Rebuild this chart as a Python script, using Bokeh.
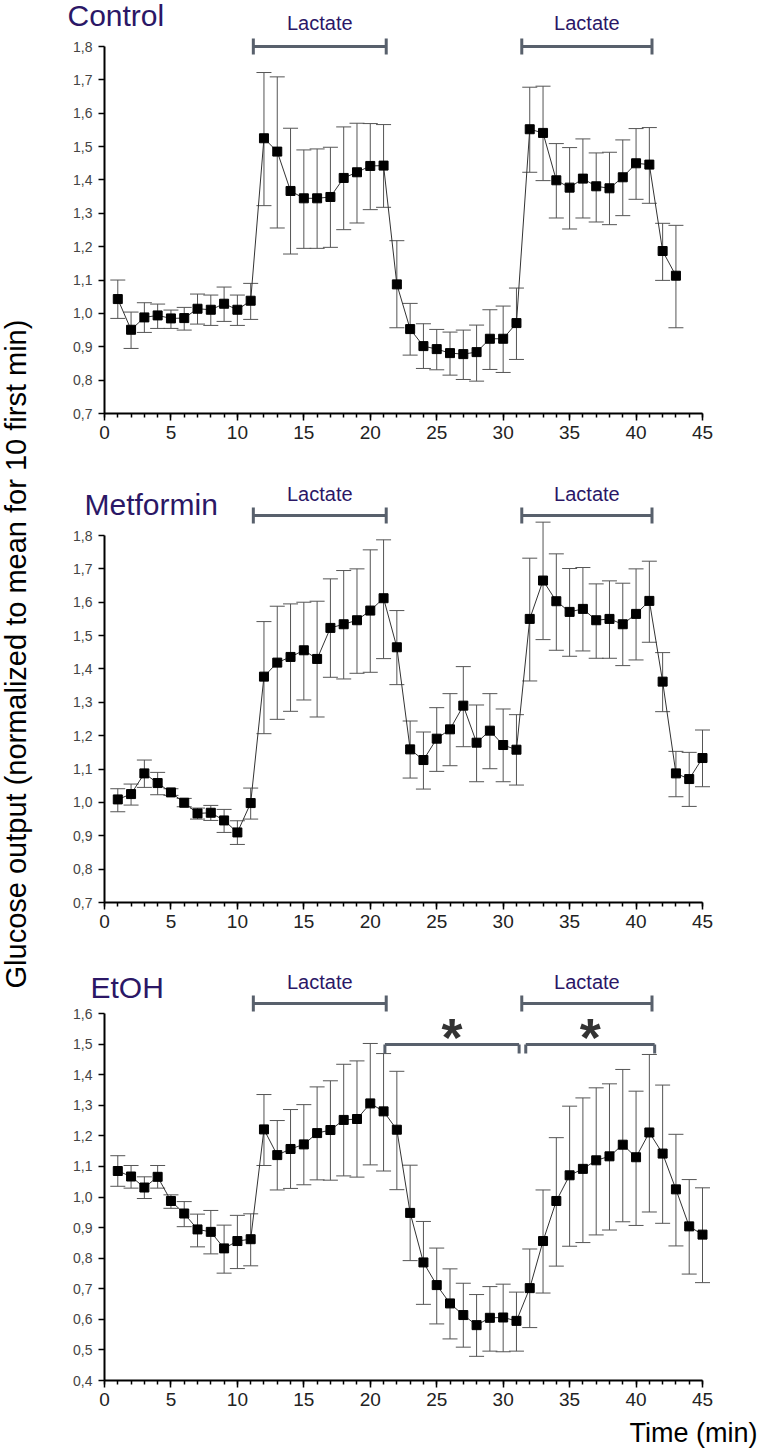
import math
from bokeh.plotting import figure
from bokeh.layouts import row, column
from bokeh.models import Range1d, FixedTicker, CustomJSTickFormatter, Label
from bokeh.embed import file_html
from bokeh.resources import INLINE
from bokeh.core.properties import value

# ---------------- data ----------------
time_ctrl = list(range(1, 44))
ctrl_mean = [1.043, 0.951, 0.988, 0.994, 0.985, 0.986, 1.014, 1.011, 1.029, 1.011, 1.038,
             1.525, 1.485, 1.367, 1.345, 1.345, 1.349, 1.406, 1.423, 1.442, 1.443,
             1.087, 0.953, 0.902, 0.893, 0.881, 0.878, 0.884, 0.924, 0.924, 0.971,
             1.552, 1.541, 1.399, 1.377, 1.404, 1.381, 1.375, 1.408, 1.450, 1.446,
             1.187, 1.113]
ctrl_upper = [1.100, 1.004, 1.032, 1.028, 1.010, 1.018, 1.058, 1.055, 1.079, 1.055, 1.090,
              1.722, 1.709, 1.555, 1.490, 1.493, 1.498, 1.559, 1.570, 1.569, 1.566,
              1.218, 1.030, 0.969, 0.952, 0.944, 0.950, 0.965, 1.011, 1.022, 1.076,
              1.678, 1.681, 1.509, 1.497, 1.523, 1.481, 1.483, 1.520, 1.554, 1.557,
              1.270, 1.264]
ctrl_lower = [0.985, 0.895, 0.943, 0.955, 0.955, 0.950, 0.968, 0.964, 0.976, 0.964, 0.982,
              1.323, 1.256, 1.178, 1.195, 1.195, 1.198, 1.251, 1.271, 1.311, 1.318,
              0.957, 0.875, 0.835, 0.831, 0.815, 0.802, 0.797, 0.832, 0.823, 0.862,
              1.423, 1.398, 1.286, 1.253, 1.286, 1.274, 1.266, 1.293, 1.342, 1.330,
              1.099, 0.957]

time_met = list(range(1, 46))
met_mean = [1.009, 1.025, 1.087, 1.058, 1.030, 0.999, 0.967, 0.969, 0.946, 0.910, 0.998,
            1.377, 1.419, 1.436, 1.456, 1.430, 1.523, 1.534, 1.546, 1.575, 1.612,
            1.465, 1.159, 1.127, 1.191, 1.219, 1.290, 1.179, 1.215, 1.172, 1.158,
            1.550, 1.665, 1.603, 1.571, 1.580, 1.546, 1.550, 1.534, 1.565, 1.604,
            1.362, 1.087, 1.070, 1.133]
met_upper = [1.041, 1.055, 1.127, 1.090, 1.041, 1.012, 0.983, 0.991, 0.979, 0.945, 1.043,
             1.542, 1.588, 1.595, 1.600, 1.603, 1.670, 1.695, 1.700, 1.757, 1.787,
             1.575, 1.244, 1.211, 1.284, 1.326, 1.407, 1.292, 1.326, 1.280, 1.263,
             1.732, 1.840, 1.745, 1.701, 1.704, 1.655, 1.664, 1.657, 1.700, 1.723,
             1.449, 1.153, 1.150, 1.217]
met_lower = [0.972, 0.992, 1.045, 1.023, 1.021, 0.987, 0.950, 0.946, 0.910, 0.874, 0.950,
             1.206, 1.249, 1.273, 1.307, 1.256, 1.375, 1.370, 1.387, 1.390, 1.431,
             1.353, 1.073, 1.040, 1.093, 1.110, 1.167, 1.062, 1.101, 1.062, 1.052,
             1.364, 1.488, 1.456, 1.438, 1.454, 1.432, 1.432, 1.410, 1.427, 1.480,
             1.272, 1.017, 0.988, 1.047]

time_etoh = list(range(1, 46))
etoh_mean = [1.085, 1.067, 1.031, 1.066, 0.987, 0.946, 0.894, 0.886, 0.832, 0.856, 0.862,
             1.221, 1.137, 1.157, 1.172, 1.209, 1.219, 1.252, 1.255, 1.306, 1.280,
             1.220, 0.948, 0.786, 0.712, 0.652, 0.614, 0.581, 0.605, 0.606, 0.595,
             0.702, 0.856, 0.987, 1.071, 1.092, 1.120, 1.133, 1.171, 1.130, 1.211,
             1.142, 1.025, 0.904, 0.877]
etoh_upper = [1.135, 1.103, 1.066, 1.103, 1.007, 0.985, 0.944, 0.956, 0.908, 0.940, 0.945,
              1.335, 1.250, 1.286, 1.302, 1.360, 1.380, 1.434, 1.445, 1.502, 1.469,
              1.411, 1.104, 0.920, 0.833, 0.765, 0.718, 0.681, 0.707, 0.715, 0.689,
              0.830, 1.023, 1.194, 1.297, 1.324, 1.357, 1.370, 1.417, 1.346, 1.466,
              1.366, 1.205, 1.057, 1.030]
etoh_lower = [1.035, 1.029, 0.995, 1.029, 0.963, 0.903, 0.837, 0.814, 0.751, 0.766, 0.775,
              1.103, 1.023, 1.028, 1.040, 1.056, 1.055, 1.069, 1.065, 1.105, 1.085,
              1.024, 0.792, 0.649, 0.585, 0.536, 0.509, 0.479, 0.496, 0.494, 0.496,
              0.573, 0.686, 0.774, 0.839, 0.851, 0.876, 0.892, 0.919, 0.907, 0.951,
              0.914, 0.840, 0.748, 0.720]

x_ticks = [0, 5, 10, 15, 20, 25, 30, 35, 40, 45]
x_minor = list(range(0, 46))
y_ticks_a = [0.7, 0.8, 0.9, 1.0, 1.1, 1.2, 1.3, 1.4, 1.5, 1.6, 1.7, 1.8]
y_ticks_b = [0.4, 0.5, 0.6, 0.7, 0.8, 0.9, 1.0, 1.1, 1.2, 1.3, 1.4, 1.5, 1.6]

lactate_periods = [(11.2, 21.2), (31.4, 41.2)]
sig_periods = [(21.1, 31.2), (31.7, 41.4)]

# ---------------- style / geometry (page pixels) ----------------
FONT = "Liberation Sans"
TITLE_COLOR = "#2b1766"
BRACKET_COLOR = "#58606c"
ERR_COLOR = "#555555"
STRIP_W = 34            # left strip holding the shared y-axis title
PAGE_W = 762
AXIS_X0 = 104           # page x of time 0
AXIS_X45 = 702          # page x of time 45
PXU = (AXIS_X45 - AXIS_X0) / 45.0
TXT_SHIFT = 9           # renderer places alphabetic baselines this much lower

panels = [
    dict(title="Control", t=time_ctrl, m=ctrl_mean, up=ctrl_upper, lo=ctrl_lower,
         yt=y_ticks_a, ylo=0.7, yhi=1.8, y_lo_px=413, y_hi_px=46, fig_top=0, fig_bottom=470,
         title_x=67, title_base=24, lact_base=31, bracket_y=46, stars=False),
    dict(title="Metformin", t=time_met, m=met_mean, up=met_upper, lo=met_lower,
         yt=y_ticks_a, ylo=0.7, yhi=1.8, y_lo_px=902, y_hi_px=535, fig_top=470, fig_bottom=955,
         title_x=84, title_base=513, lact_base=502, bracket_y=515, stars=False),
    dict(title="EtOH", t=time_etoh, m=etoh_mean, up=etoh_upper, lo=etoh_lower,
         yt=y_ticks_b, ylo=0.4, yhi=1.6, y_lo_px=1380, y_hi_px=1013, fig_top=955, fig_bottom=1450,
         title_x=90, title_base=996, lact_base=990, bracket_y=1003, stars=True),
]


def xd(page_x):
    return (page_x - AXIS_X0) / PXU


figs = []
for pn in panels:
    ppu = (pn["y_lo_px"] - pn["y_hi_px"]) / (pn["yhi"] - pn["ylo"])

    def yd(page_y, pn=pn, ppu=ppu):
        return pn["ylo"] + (pn["y_lo_px"] - page_y) / ppu

    p = figure(width=PAGE_W - STRIP_W, height=pn["fig_bottom"] - pn["fig_top"],
               x_range=Range1d(xd(STRIP_W), xd(PAGE_W)),
               y_range=Range1d(yd(pn["fig_bottom"]), yd(pn["fig_top"])),
               output_backend="svg", toolbar_location=None, min_border=0)
    p.outline_line_color = None
    p.xgrid.visible = False
    p.ygrid.visible = False
    p.background_fill_color = "white"
    p.border_fill_color = "white"

    # axes, pinned to the data origin of each panel
    xa = p.xaxis[0]
    xa.fixed_location = pn["ylo"]
    xa.ticker = FixedTicker(ticks=x_ticks, minor_ticks=x_minor)
    xa.bounds = (0, 45)
    xa.axis_line_width = 2
    xa.axis_line_color = "black"
    xa.major_tick_in = 0
    xa.major_tick_out = 7
    xa.minor_tick_in = 0
    xa.minor_tick_out = 4
    xa.major_tick_line_width = 1.5
    xa.minor_tick_line_width = 1.5
    xa.major_tick_line_color = "black"
    xa.minor_tick_line_color = "black"
    xa.major_label_text_font = FONT
    xa.major_label_text_font_size = "19px"
    xa.major_label_text_color = "#222222"
    xa.major_label_standoff = 5

    ya = p.yaxis[0]
    ya.fixed_location = 0
    ya.ticker = FixedTicker(ticks=pn["yt"])
    ya.formatter = CustomJSTickFormatter(code="return tick.toFixed(1).replace('.', ',');")
    ya.bounds = (pn["ylo"], pn["yhi"])
    ya.axis_line_width = 2
    ya.axis_line_color = "black"
    ya.major_tick_in = 0
    ya.major_tick_out = 6
    ya.major_tick_line_width = 1.5
    ya.major_tick_line_color = "black"
    ya.minor_tick_line_color = None
    ya.major_label_text_font = FONT
    ya.major_label_text_font_size = "14px"
    ya.major_label_text_color = "#444444"
    ya.major_label_standoff = 6

    # error bars
    t = pn["t"]
    p.segment(x0=t, y0=pn["lo"], x1=t, y1=pn["up"], line_color=ERR_COLOR, line_width=1)
    p.scatter(x=t + t, y=pn["up"] + pn["lo"], marker="dash", size=15,
              line_color=ERR_COLOR, line_width=1)
    # series
    p.line(t, pn["m"], line_color="#333333", line_width=1)
    p.scatter(t, pn["m"], marker="square", size=9, fill_color="black", line_color="black")

    # lactate brackets
    by = yd(pn["bracket_y"])
    cap = 8 / ppu
    for (a, b) in lactate_periods:
        p.segment(x0=[a, a, b], y0=[by, by - cap, by - cap], x1=[b, a, b], y1=[by, by + cap, by + cap],
                  line_color=BRACKET_COLOR, line_width=3, line_cap="butt")
        p.add_layout(Label(x=(a + b) / 2, y=yd(pn["lact_base"] - TXT_SHIFT), text="Lactate",
                           text_font=FONT, text_font_size="20px", text_color=TITLE_COLOR,
                           text_align="center", text_baseline="alphabetic"))

    if pn["stars"]:
        sy = yd(1044)
        tick = 9 / ppu
        for (a, b) in sig_periods:
            p.segment(x0=[a, a, b], y0=[sy, sy, sy], x1=[b, a, b], y1=[sy, sy - tick, sy - tick],
                      line_color=BRACKET_COLOR, line_width=3, line_cap="butt")
            p.add_layout(Label(x=(a + b) / 2, y=yd(1036), text="*",
                               text_font=FONT, text_font_size="54px", text_font_style="bold",
                               text_color="#333333", text_align="center",
                               text_baseline="alphabetic"))
        p.add_layout(Label(x=xd(757), y=yd(1441 - TXT_SHIFT), text="Time (min)",
                           text_font=FONT, text_font_size="27px", text_color="black",
                           text_align="right", text_baseline="alphabetic"))

    # panel title
    p.add_layout(Label(x=xd(pn["title_x"]), y=yd(pn["title_base"] - TXT_SHIFT), text=pn["title"],
                       text_font=FONT, text_font_size="30px", text_color=TITLE_COLOR,
                       text_align="left", text_baseline="alphabetic"))
    figs.append(p)

# shared y-axis title in a narrow strip
lf = figure(width=STRIP_W, height=1450, x_range=Range1d(0, STRIP_W),
            y_range=Range1d(1450, 0), output_backend="svg", toolbar_location=None,
            x_axis_type=None, y_axis_type=None, min_border=0)
lf.outline_line_color = None
lf.xgrid.visible = False
lf.ygrid.visible = False
lf.text(x=[15], y=[988], text=["Glucose output (normalized to mean for 10 first min)"],
        angle=math.pi / 2, text_align="left", text_baseline="alphabetic",
        text_font=value(FONT), text_font_size="29px", text_color="black")

layout = row(lf, column(*figs, spacing=0), spacing=0)
open("out.html", "w").write(file_html(layout, INLINE))
